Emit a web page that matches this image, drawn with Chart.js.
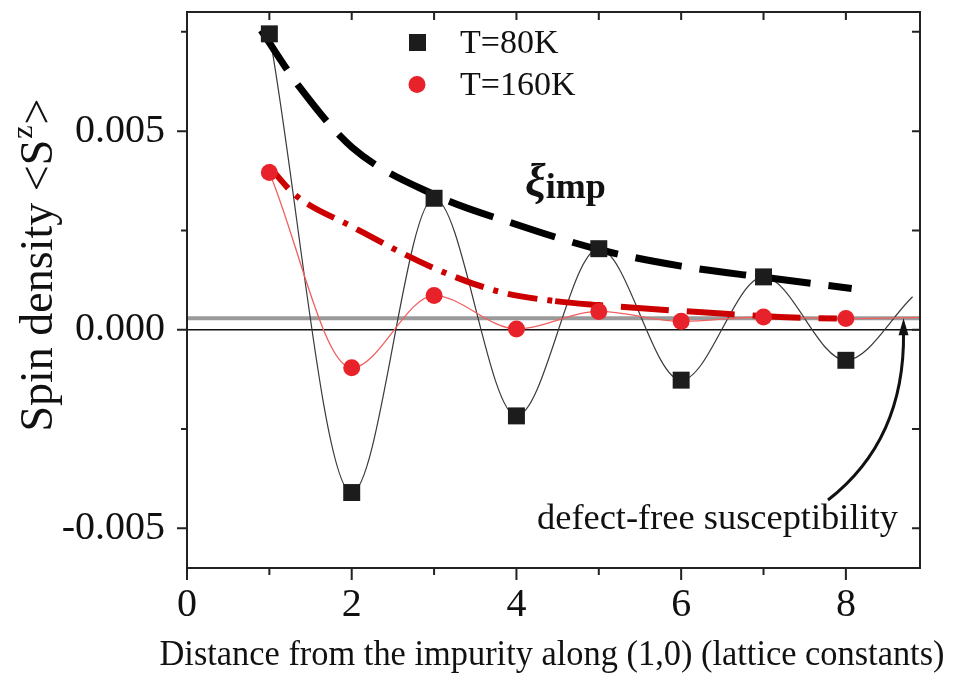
<!DOCTYPE html>
<html><head><meta charset="utf-8">
<script src="https://cdn.jsdelivr.net/npm/chart.js@4.4.1/dist/chart.umd.min.js"></script>
<style>html,body{margin:0;padding:0;background:#fff;}canvas{display:block;}</style>
</head><body>
<canvas id="c" width="958" height="676"></canvas>
<script>
// ---- data ----
const distance = [1, 2, 3, 4, 5, 6, 7, 8];
const spin80K  = [0.00745, -0.0041, 0.00331, -0.00217, 0.00204, -0.00127, 0.00133, -0.00077];
const spin160K = [0.00396, -0.00096, 0.00086, 0.00002, 0.00046, 0.00021, 0.00032, 0.00028];
const tail80K  = [8.81, 0.00083];   // end of the thin 80K curve
const tail160K = [8.9, 0.00031];    // end of the thin 160K curve
const fit80X  = [0.9, 1.37, 2, 3, 4, 5, 6, 7, 8.07];
const fit80Y  = [0.00754, 0.0061, 0.0046, 0.0034, 0.00265, 0.00202, 0.00160, 0.00132, 0.00104];
const fit160X = [0.99, 1.31, 2, 3, 3.8, 4.47, 5, 6.39, 7.2, 7.89];
const fit160Y = [0.00413, 0.0034, 0.0026, 0.00155, 0.00095, 0.00072, 0.00062, 0.00042, 0.00032, 0.00028];
const defectFree = 0.00029;
const xRange = [0, 8.9];
const yRange = [-0.006, 0.008];
const xTickValues = [0, 1, 2, 3, 4, 5, 6, 7, 8];
const xTickLabels = ['0', '', '2', '', '4', '', '6', '', '8'];
const yMajorTicks = [-0.005, 0, 0.005];
const yTickLabels = ['-0.005', '0.000', '0.005'];
const seriesNames = ['T=80K', 'T=160K'];
const xTitle = 'Distance from the impurity along (1,0) (lattice constants)';
const yTitleParts = ['Spin density <S', 'z', '>'];
const fitLabel = ['\u03BE', 'imp'];
const arrowLabel = 'defect-free susceptibility';

const serif = "'Liberation Serif','Times New Roman',serif";
const BLACK = '#1c1c1c', RED = '#e8222a';

const pts = (xs, ys) => xs.map((x, i) => ({x, y: ys[i]}));
const markers80 = pts(distance, spin80K);
const markers160 = pts(distance, spin160K);
const curve80 = markers80.concat([{x: tail80K[0], y: tail80K[1]}]);
const curve160 = markers160.concat([{x: tail160K[0], y: tail160K[1]}]);
const refLine = (v) => [{x: xRange[0], y: v}, {x: xRange[1], y: v}];

// draw text stretched/condensed horizontally to a target width
function fitText(ctx, text, font, cx, cy, width, align) {
  ctx.save();
  ctx.font = font;
  const w = ctx.measureText(text).width;
  const k = width / w;
  ctx.translate(cx, cy); ctx.scale(k, 1);
  ctx.textAlign = align; ctx.fillText(text, 0, 0);
  ctx.restore();
}

const decor = {
  id: 'decor',
  afterDraw(chart) {
    const {ctx, chartArea: a, scales: {x, y}} = chart;
    ctx.save();
    // frame
    ctx.strokeStyle = '#222'; ctx.lineWidth = 2;
    ctx.strokeRect(a.left, a.top, a.right - a.left, a.bottom - a.top);
    // ticks
    ctx.beginPath();
    xTickValues.forEach((v, i) => {
      const px = x.getPixelForValue(v);
      const major = xTickLabels[i] !== '';
      ctx.moveTo(px, a.bottom); ctx.lineTo(px, a.bottom + (major ? 12 : 7));
      if (v > xRange[0]) { ctx.moveTo(px, a.top); ctx.lineTo(px, a.top + 8); }
    });
    y.ticks.forEach(t => {
      const py = y.getPixelForValue(t.value);
      const major = t.label !== '';
      ctx.moveTo(a.left, py); ctx.lineTo(a.left - (major ? 10 : 6), py);
      ctx.moveTo(a.right, py); ctx.lineTo(a.right - 8, py);
    });
    ctx.stroke();

    ctx.fillStyle = '#111';
    // x title
    ctx.textBaseline = 'middle';
    fitText(ctx, xTitle, `36px ${serif}`, 552, 656, 785, 'center');

    // y title with superscript
    ctx.save();
    ctx.translate(52, 265); ctx.rotate(-Math.PI / 2);
    const f1 = `46px ${serif}`, f2 = `30px ${serif}`;
    ctx.font = f1;
    const w1 = ctx.measureText(yTitleParts[0]).width, w3 = ctx.measureText(yTitleParts[2]).width;
    ctx.font = f2;
    const w2 = ctx.measureText(yTitleParts[1]).width;
    let sx = -(w1 + w2 + w3 + 2) / 2;
    ctx.textBaseline = 'alphabetic'; ctx.textAlign = 'left';
    ctx.font = f1; ctx.fillText(yTitleParts[0], sx, 0); sx += w1 + 1;
    ctx.font = f2; ctx.fillText(yTitleParts[1], sx, -20); sx += w2 + 1;
    ctx.font = f1; ctx.fillText(yTitleParts[2], sx, 0);
    ctx.restore();

    // legend
    ctx.fillStyle = BLACK;
    ctx.fillRect(409, 34, 17, 17);
    ctx.fillStyle = RED;
    ctx.beginPath(); ctx.arc(417, 84.5, 8.5, 0, Math.PI * 2); ctx.fill();
    ctx.fillStyle = '#111'; ctx.font = `34px ${serif}`; ctx.textBaseline = 'middle'; ctx.textAlign = 'left';
    ctx.fillText(seriesNames[0], 460, 44);
    ctx.fillText(seriesNames[1], 460, 86);

    // xi_imp label
    ctx.textBaseline = 'alphabetic';
    ctx.font = `italic bold 46px ${serif}`;
    ctx.fillText(fitLabel[0], 525, 196);
    const wx = ctx.measureText(fitLabel[0]).width;
    ctx.font = `bold 36px ${serif}`;
    ctx.fillText(fitLabel[1], 525 + wx, 198);

    // defect-free susceptibility label and arrow
    fitText(ctx, arrowLabel, `35px ${serif}`, 898, 529, 361, 'right');
    const tipX = x.getPixelForValue(8.7), tipY = y.getPixelForValue(defectFree);
    ctx.strokeStyle = '#111'; ctx.lineWidth = 3;
    ctx.beginPath(); ctx.moveTo(828, 500); ctx.quadraticCurveTo(905, 440, tipX, tipY + 14); ctx.stroke();
    ctx.beginPath(); ctx.moveTo(tipX, tipY); ctx.lineTo(tipX - 5, tipY + 17); ctx.lineTo(tipX + 5, tipY + 17); ctx.closePath(); ctx.fill();
    ctx.restore();
  }
};

new Chart(document.getElementById('c'), {
  type: 'scatter',
  data: {
    datasets: [
      {label: seriesNames[0], data: markers80, pointStyle: 'rect', pointRadius: 12, pointBackgroundColor: BLACK, pointBorderWidth: 0, showLine: false, order: 0},
      {label: seriesNames[1], data: markers160, pointStyle: 'circle', pointRadius: 8.5, pointBackgroundColor: RED, pointBorderWidth: 0, showLine: false, order: 1},
      {label: 'fit80', data: pts(fit80X, fit80Y), showLine: true, pointRadius: 0, borderColor: '#000', borderWidth: 7, borderDash: [47, 18], cubicInterpolationMode: 'monotone', order: 2},
      {label: 'fit160', data: pts(fit160X, fit160Y), showLine: true, pointRadius: 0, borderColor: '#cc0000', borderWidth: 6, cubicInterpolationMode: 'monotone', order: 3,
        segment: {borderDash: c => c.p0.parsed.x >= 4.4 ? [48, 18] : [30, 10, 5, 10]}},
      {label: 'curve160', data: curve160, showLine: true, pointRadius: 0, borderColor: '#f0605f', borderWidth: 1.3, cubicInterpolationMode: 'monotone', order: 4},
      {label: 'curve80', data: curve80, showLine: true, pointRadius: 0, borderColor: '#3a3a3a', borderWidth: 1.2, cubicInterpolationMode: 'monotone', order: 5},
      {label: 'defect-free', data: refLine(defectFree), showLine: true, pointRadius: 0, borderColor: '#9a9a9a', borderWidth: 4, order: 6},
      {label: 'zero', data: refLine(0), showLine: true, pointRadius: 0, borderColor: '#111', borderWidth: 1.5, order: 7}
    ]
  },
  options: {
    responsive: false, animation: false, devicePixelRatio: 1,
    layout: {padding: {left: 0, right: 38, top: 7, bottom: 0}},
    plugins: {legend: {display: false}, tooltip: {enabled: false}},
    scales: {
      x: {
        type: 'linear', min: xRange[0], max: xRange[1],
        grid: {display: false, drawTicks: false}, border: {display: false},
        ticks: {stepSize: 1, includeBounds: false, autoSkip: false, maxRotation: 0, padding: 13,
          color: '#111', font: {family: serif, size: 40},
          callback: v => { const i = xTickValues.findIndex(t => Math.abs(t - v) < 1e-9); return i >= 0 ? xTickLabels[i] : ''; }},
        title: {display: false, text: xTitle},
        afterFit: s => { s.height = 108; s.paddingLeft = 0; s.paddingRight = 0; }
      },
      y: {
        type: 'linear', min: yRange[0], max: yRange[1],
        grid: {display: false, drawTicks: false}, border: {display: false},
        ticks: {stepSize: 0.0025, includeBounds: false, autoSkip: false, padding: 22,
          color: '#111', font: {family: serif, size: 40},
          callback: v => { const i = yMajorTicks.findIndex(t => Math.abs(t - v) < 1e-9); return i >= 0 ? yTickLabels[i] : ''; }},
        afterFit: s => { s.width = 187; s.paddingTop = 0; s.paddingBottom = 0; }
      }
    }
  },
  plugins: [decor]
});
</script>
</body></html>
